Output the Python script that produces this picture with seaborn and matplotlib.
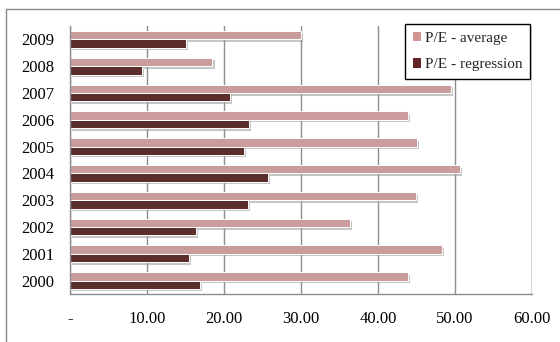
import matplotlib
matplotlib.use("Agg")
import matplotlib.pyplot as plt
import matplotlib.patheffects as pe
from matplotlib.lines import Line2D
import seaborn as sns
import pandas as pd

years = ["2009", "2008", "2007", "2006", "2005", "2004", "2003", "2002", "2001", "2000"]
pe_average = [30.0, 18.5, 49.5, 43.9, 45.0, 50.6, 44.9, 36.3, 48.3, 43.9]
pe_regression = [15.1, 9.3, 20.8, 23.2, 22.6, 25.7, 23.1, 16.4, 15.5, 16.9]
series_names = ["P/E - average", "P/E - regression"]
x_ticks = [0, 10, 20, 30, 40, 50, 60]
x_labels = ["-", "10.00", "20.00", "30.00", "40.00", "50.00", "60.00"]

df = pd.DataFrame({
    "year": years * 2,
    "value": pe_average + pe_regression,
    "series": [series_names[0]] * len(years) + [series_names[1]] * len(years),
})

sns.set_theme(style="white")
plt.rcParams["font.family"] = ["Liberation Serif", "DejaVu Serif"]

colors = {series_names[0]: "#D39494", series_names[1]: "#632523"}
grid_gray = "#8E8E8E"

fig = plt.figure(figsize=(5.6, 3.42), dpi=100)
ax = fig.add_axes([70 / 560, 1 - 294 / 342, (532 - 70) / 560, (294 - 26) / 342])

sns.barplot(data=df, x="value", y="year", hue="series", order=years,
            hue_order=series_names, palette=colors, orient="h",
            width=0.62, dodge=True, ax=ax, legend=False,
            edgecolor="white", linewidth=0.7, errorbar=None)

shadow = [pe.SimplePatchShadow(offset=(1.5, -1.8), shadow_rgbFace="#a0a0a0", alpha=0.6),
          pe.Normal()]
for bar in ax.patches:
    bar.set_path_effects(shadow)

ax.set_xlim(0, 60)
ax.set_ylim(len(years) - 0.5, -0.5)
ax.set_xticks(x_ticks)
ax.set_xticklabels(x_labels, fontsize=12, color="black")
ax.tick_params(axis="x", direction="out", length=4, color=grid_gray, width=1, pad=8)
ax.set_yticks(range(len(years)))
ax.set_yticklabels(years, fontsize=12, color="black")
ax.tick_params(axis="y", which="major", length=0, pad=11)
ax.set_yticks([i - 0.5 for i in range(len(years) + 1)], minor=True)
ax.tick_params(axis="y", which="minor", direction="out", length=4, color=grid_gray, width=1)
ax.set_xlabel("")
ax.set_ylabel("")

ax.grid(axis="x", color=grid_gray, linewidth=1)
ax.grid(axis="y", visible=False)
ax.set_axisbelow(True)
for side in ("top", "right"):
    ax.spines[side].set_visible(False)
for side in ("left", "bottom"):
    ax.spines[side].set_color(grid_gray)
    ax.spines[side].set_linewidth(1)
ax.axvline(60, color=grid_gray, linewidth=1, zorder=0)

# chart-area frame
fig.add_artist(Line2D([6 / 560, 6 / 560], [0, 1 - 9 / 342], transform=fig.transFigure,
                      color="#8a8a8a", linewidth=1))
fig.add_artist(Line2D([6 / 560, 1], [1 - 9 / 342, 1 - 9 / 342], transform=fig.transFigure,
                      color="#8a8a8a", linewidth=1))

handles = [plt.Rectangle((0, 0), 1, 1, facecolor=colors[s], edgecolor="none") for s in series_names]
leg = ax.legend(handles, series_names, loc="upper left",
                bbox_to_anchor=(405 / 560, 1 - 24 / 342), bbox_transform=fig.transFigure,
                fontsize=11, frameon=True, fancybox=False, framealpha=1,
                edgecolor="black", handlelength=0.55, handleheight=0.55,
                handletextpad=0.25, labelspacing=0.9, borderpad=0.5,
                borderaxespad=0)
leg.get_frame().set_linewidth(1)

fig.savefig("out.png", dpi=100)
